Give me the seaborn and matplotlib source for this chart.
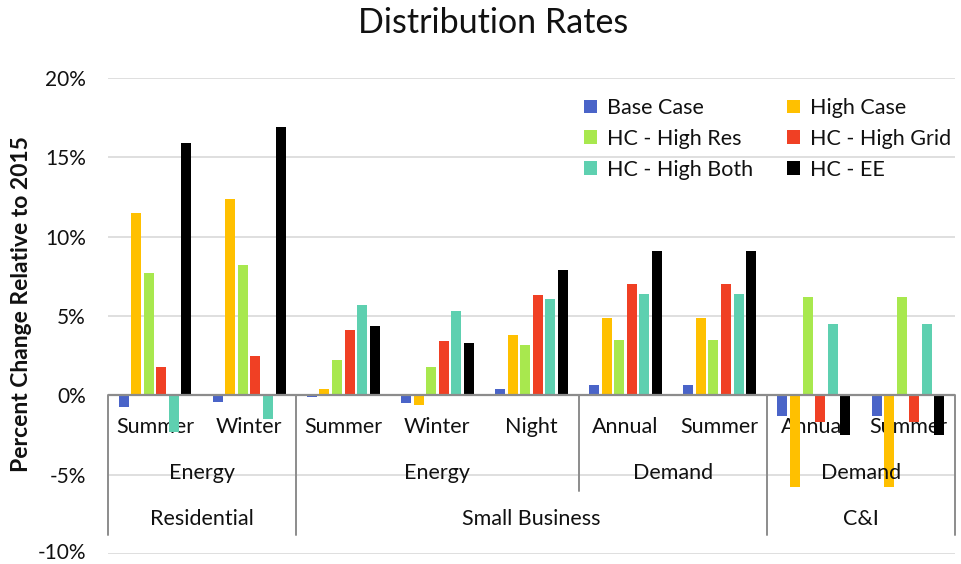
import matplotlib
matplotlib.use("Agg")
import matplotlib.pyplot as plt
import matplotlib.transforms as mtransforms
import seaborn as sns
import pandas as pd
from matplotlib.patches import Patch

# Category hierarchy (outer -> inner)
sectors = ["Residential", "Small Business", "C&I"]
sector_spans = [2, 5, 2]
charges = ["Energy", "Energy", "Demand", "Demand"]
charge_spans = [2, 3, 2, 2]
periods = ["Summer", "Winter", "Summer", "Winter", "Night",
           "Annual", "Summer", "Annual", "Summer"]

# Percent change relative to 2015, one list per scenario
series_names = ["Base Case", "High Case", "HC - High Res",
                "HC - High Grid", "HC - High Both", "HC - EE"]
base_case = [-0.75, -0.4, -0.1, -0.5, 0.4, 0.65, 0.65, -1.3, -1.3]
high_case = [11.5, 12.4, 0.4, -0.6, 3.8, 4.9, 4.9, -5.8, -5.8]
hc_high_res = [7.7, 8.2, 2.2, 1.8, 3.2, 3.5, 3.5, 6.2, 6.2]
hc_high_grid = [1.8, 2.5, 4.1, 3.4, 6.3, 7.0, 7.0, -1.7, -1.7]
hc_high_both = [-2.3, -1.5, 5.7, 5.3, 6.1, 6.4, 6.4, 4.5, 4.5]
hc_ee = [15.9, 16.9, 4.4, 3.3, 7.9, 9.1, 9.1, -2.5, -2.5]

y_ticks = [-10, -5, 0, 5, 10, 15, 20]

colors = ["#4A64C8", "#FFC000", "#A8E84E", "#F04024", "#5ED0B0", "#000000"]

# Build long-form table
all_series = [base_case, high_case, hc_high_res, hc_high_grid, hc_high_both, hc_ee]
keys = [f"{i}" for i in range(len(periods))]
rows = []
for name, vals in zip(series_names, all_series):
    for k, v in zip(keys, vals):
        rows.append({"category": k, "scenario": name, "value": v})
df = pd.DataFrame(rows)

sns.set_theme(style="white")
plt.rcParams["font.family"] = ["Lato", "DejaVu Sans"]

fig = plt.figure(figsize=(9.61, 5.64), dpi=100)
ax = fig.add_axes([108 / 961, 10 / 564, 847 / 961, 476 / 564])

sns.barplot(data=df, x="category", y="value", hue="scenario",
            hue_order=series_names, palette=colors, order=keys,
            saturation=1, width=0.8, gap=0.2, ax=ax, legend=False,
            zorder=3, linewidth=0, edgecolor="none")

ax.set_xlim(-0.5, len(periods) - 0.5)
ax.set_ylim(-10, 20)
ax.set_yticks(y_ticks)
ax.set_yticklabels([f"{t}%" for t in y_ticks], fontsize=15, color="#111111")
ax.tick_params(axis="y", length=0, pad=16)
# keep the lowest tick label inside the canvas
low = ax.get_yticklabels()[0]
low.set_transform(low.get_transform() +
                  mtransforms.ScaledTranslation(0, 3 / 100, fig.dpi_scale_trans))
ax.set_xticks([])
ax.set_xlabel("")
ax.set_ylabel("Percent Change Relative to 2015", fontsize=16.5,
              fontweight="bold", color="#111111")
ax.yaxis.set_label_coords(-76 / 847, 0.525)

for s in ax.spines.values():
    s.set_visible(False)

# Grid
for t in y_ticks:
    if t != 0:
        ax.axhline(t, color="#D9D9D9", lw=1.2, zorder=0)
ax.axhline(0, color="#8C8C8C", lw=1.6, zorder=4)

# Multi-level category labels
line_kw = dict(color="#8C8C8C", lw=1.4, clip_on=False, zorder=4)
lbl_kw = dict(ha="center", va="center", fontsize=15.5, color="#111111",
              clip_on=False)
for i, p in enumerate(periods):
    ax.text(i, -2.0, p, zorder=2, **lbl_kw)

pos = 0
for c, span in zip(charges, charge_spans):
    ax.text(pos + (span - 1) / 2, -4.9, c, zorder=5, **lbl_kw)
    pos += span

pos = 0
for s, span in zip(sectors, sector_spans):
    ax.text(pos + (span - 1) / 2, -7.8, s, zorder=5, **lbl_kw)
    pos += span

# Separators between sectors (full) and charge groups (partial)
sector_edges = [-0.5]
for span in sector_spans:
    sector_edges.append(sector_edges[-1] + span)
for e in sector_edges:
    ax.plot([e, e], [0, -8.8], **line_kw)
charge_edges = [-0.5]
for span in charge_spans:
    charge_edges.append(charge_edges[-1] + span)
for e in charge_edges:
    if e not in sector_edges:
        ax.plot([e, e], [0, -6.0], **line_kw)

# Legend in row-major order
handles = [Patch(facecolor=c, edgecolor="none", label=n)
           for c, n in zip(colors, series_names)]
order = [0, 2, 4, 1, 3, 5]
leg = fig.legend([handles[i] for i in order], [series_names[i] for i in order],
                 ncol=2, loc="upper left",
                 bbox_to_anchor=(584 / 961, 1 - 98 / 564),
                 frameon=False, fontsize=15.5, handlelength=0.6,
                 handleheight=0.6, handletextpad=0.45, columnspacing=1.6,
                 labelspacing=0.5, borderaxespad=0, borderpad=0)
for t in leg.get_texts():
    t.set_color("#111111")

fig.suptitle("Distribution Rates", x=493 / 961, y=1 - 23 / 564, va="center",
             fontsize=24.5, color="#111111")

fig.savefig("out.png", dpi=100)
